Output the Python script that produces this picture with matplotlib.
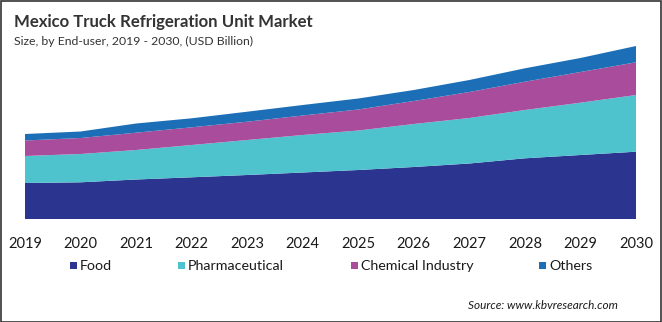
import matplotlib
matplotlib.use("Agg")
import matplotlib.pyplot as plt
from matplotlib.patches import Rectangle

# Market size by end-user (USD Billion)
years = [2019, 2020, 2021, 2022, 2023, 2024, 2025, 2026, 2027, 2028, 2029, 2030]
food = [0.360, 0.367, 0.395, 0.417, 0.440, 0.465, 0.490, 0.520, 0.555, 0.607, 0.640, 0.673]
pharmaceutical = [0.270, 0.283, 0.295, 0.323, 0.350, 0.375, 0.395, 0.430, 0.455, 0.483, 0.523, 0.567]
chemical_industry = [0.155, 0.160, 0.173, 0.177, 0.183, 0.195, 0.210, 0.230, 0.260, 0.283, 0.307, 0.327]
others = [0.065, 0.065, 0.092, 0.090, 0.100, 0.105, 0.110, 0.110, 0.120, 0.134, 0.140, 0.163]

series_names = ["Food", "Pharmaceutical", "Chemical Industry", "Others"]
colors = ["#2B3590", "#4EC3CE", "#A94C9B", "#1C6FB6"]

W, H = 662, 322
fig = plt.figure(figsize=(W / 100, H / 100), dpi=100)
fig.patch.set_facecolor("white")

FONT = "Lato"

# plot area in pixel coordinates
x0, x1 = 25, 636
y_base, y_top = 219, 30
ax = fig.add_axes([x0 / W, (H - y_base) / H, (x1 - x0) / W, (y_base - y_top) / H])
ax.stackplot(years, food, pharmaceutical, chemical_industry, others,
             colors=colors, linewidth=0)
ax.set_xlim(years[0], years[-1])
ax.set_ylim(0, (y_base - y_top) / 100)
for s in ax.spines.values():
    s.set_visible(False)
ax.set_yticks([])
ax.set_xticks(years)
ax.set_xticklabels([str(y) for y in years], fontfamily=FONT, fontsize=10.5, color="#1a1a1a")
ax.tick_params(axis="x", length=0, pad=13)
ax.set_facecolor("none")

# title and subtitle
fig.text(14 / W, 1 - 27 / H, "Mexico Truck Refrigeration Unit Market",
         fontfamily=FONT, fontweight="bold", fontsize=12.1, color="#333333",
         ha="left", va="baseline")
fig.text(14 / W, 1 - 45 / H, "Size, by End-user, 2019 - 2030, (USD Billion)",
         fontfamily=FONT, fontsize=8.85, color="#333333", ha="left", va="baseline")

# legend
legend_sq_x = [70, 178, 351, 539]
legend_y = 265.5
for name, col, sx in zip(series_names, colors, legend_sq_x):
    fig.patches.append(Rectangle((sx / W, 1 - (legend_y + 3.5) / H), 7 / W, 7 / H,
                                 transform=fig.transFigure, facecolor=col,
                                 edgecolor="none"))
    fig.text((sx + 10) / W, 1 - legend_y / H, name, fontfamily=FONT, fontsize=10.3,
             color="#1a1a1a", ha="left", va="center_baseline")

# source note
fig.text(618 / W, 1 - 304.5 / H, "Source: www.kbvresearch.com", fontfamily=FONT,
         fontstyle="italic", fontsize=8.5, color="#1a1a1a", ha="right", va="center_baseline")

# outer frame
fig.patches.append(Rectangle((0.5 / W, 0.5 / H), (W - 1.5) / W, (H - 1.5) / H,
                             transform=fig.transFigure, facecolor="none",
                             edgecolor="#333333", linewidth=1.2))

fig.savefig("out.png", dpi=100)
